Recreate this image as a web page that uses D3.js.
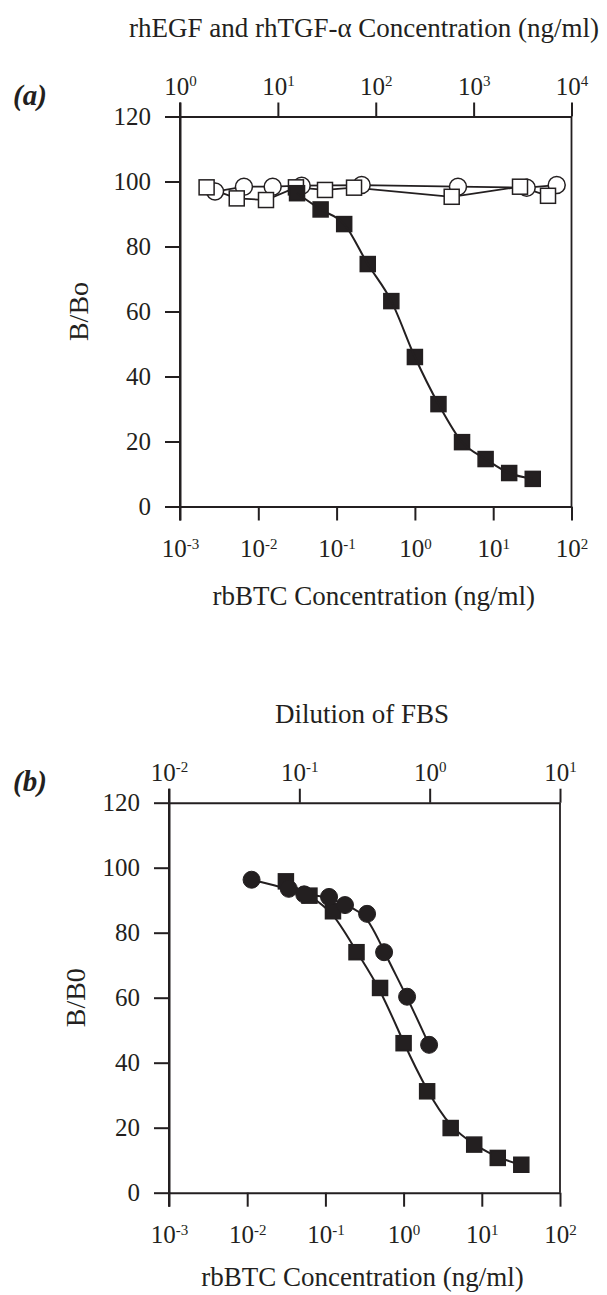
<!DOCTYPE html>
<html>
<head>
<meta charset="utf-8">
<script src="https://cdn.jsdelivr.net/npm/d3@7"></script>
<style>
  body { margin: 0; background: #fff; }
  text { font-family: "Liberation Serif", "Times New Roman", serif; fill: #231f20; }
</style>
</head>
<body>
<svg id="chart" width="607" height="1295"></svg>
<script>
// ---- panel (a) ----
const btcConc = [0.03125, 0.0625, 0.125, 0.25, 0.5, 1, 2, 4, 8, 16, 32];
const btcValuesA = [96.4, 91.4, 86.9, 74.6, 63.2, 46, 31.5, 19.8, 14.6, 10.3, 8.5];
const egfConc = [2.28, 4.5, 8.85, 17.5, 71.8, 692, 3484, 7063];
const egfValues = [96.9, 98.4, 98.4, 98.7, 98.9, 98.4, 98.1, 98.9];
const tgfConc = [1.87, 3.8, 7.56, 15.3, 30.3, 60, 597, 2978, 5755];
const tgfValues = [98.2, 94.8, 94.3, 98.2, 97.4, 98.1, 95.3, 98.4, 95.6];

// ---- panel (b) ----
const btcValuesB = [95.8, 91.4, 86.6, 74, 63, 46, 31.2, 19.9, 14.8, 10.7, 8.6];
const fbsDilution = [0.043, 0.083, 0.109, 0.169, 0.224, 0.331, 0.447, 0.671, 0.99];
const fbsValues = [96.3, 93.5, 91.8, 91, 88.5, 85.8, 74, 60.3, 45.5];

// ---- ticks ----
const yTicks = [0, 20, 40, 60, 80, 100, 120];
const btcTicks = [1e-3, 1e-2, 1e-1, 1e0, 1e1, 1e2];
const egfTicks = [1e0, 1e1, 1e2, 1e3, 1e4];
const fbsTicks = [1e-2, 1e-1, 1e0, 1e1];

const INK = '#231f20';
const svg = d3.select('#chart');

function powLabels(g) {
  g.selectAll('.tick text').each(function (d) {
    const t = d3.select(this);
    t.text('10');
    t.append('tspan')
      .attr('dy', '-0.55em')
      .style('font-size', '15px')
      .text(Math.round(Math.log10(d)));
  });
}

function styleAxis(g) {
  g.selectAll('.domain').attr('stroke', INK).attr('stroke-width', 2);
  g.selectAll('.tick line').attr('stroke', INK).attr('stroke-width', 2);
  g.selectAll('text').style('font-size', '25px').style('font-family', '"Liberation Serif", serif').attr('fill', INK);
}

function drawPanel(p) {
  const x = d3.scaleLog().domain([1e-3, 1e2]).range([p.left, p.right]);
  const xTop = d3.scaleLog().domain(p.topDomain).range([p.left, p.right]);
  const y = d3.scaleLinear().domain([0, 120]).range([p.bottom, p.top]);

  // box right edge
  svg.append('line')
    .attr('x1', p.right).attr('x2', p.right)
    .attr('y1', p.top).attr('y2', p.bottom)
    .attr('stroke', INK).attr('stroke-width', 1.8);

  const gb = svg.append('g').attr('transform', `translate(0,${p.bottom})`)
    .call(d3.axisBottom(x).tickValues(btcTicks).tickSize(14).tickSizeOuter(0).tickPadding(19));
  styleAxis(gb); powLabels(gb);

  const gt = svg.append('g').attr('transform', `translate(0,${p.top})`)
    .call(d3.axisTop(xTop).tickValues(p.topTicks).tickSize(14).tickSizeOuter(0).tickPadding(8));
  styleAxis(gt); powLabels(gt);

  const gl = svg.append('g').attr('transform', `translate(${p.left},0)`)
    .call(d3.axisLeft(y).tickValues(yTicks).tickSize(15).tickSizeOuter(0).tickPadding(14));
  styleAxis(gl);
  // left axis continues past the top and bottom lines (corner ticks)
  svg.append('line')
    .attr('x1', p.left).attr('x2', p.left)
    .attr('y1', p.top - 14).attr('y2', p.bottom + 14)
    .attr('stroke', INK).attr('stroke-width', 2);

  svg.append('text').attr('x', p.topTitleX).attr('y', p.top - 80)
    .attr('text-anchor', 'middle').style('font-size', '27px').text(p.topTitle);
  svg.append('text').attr('x', (p.left + p.right) / 2 - 2).attr('y', p.bottom + p.bottomTitleGap)
    .attr('text-anchor', 'middle').style('font-size', '27px').text('rbBTC Concentration (ng/ml)');
  svg.append('text').attr('transform', `translate(${p.yLabelX},${(p.top + p.bottom) / 2}) rotate(-90)`)
    .attr('text-anchor', 'middle').style('font-size', '28px').text(p.yTitle);
  svg.append('text').attr('x', 13).attr('y', p.top - 12)
    .style('font-size', '29px').style('font-weight', 'bold').style('font-style', 'italic')
    .text(p.tag);

  return { x, xTop, y };
}

function sq(g, px, py, s, fill) {
  g.append('rect').attr('x', px - s / 2).attr('y', py - s / 2)
    .attr('width', s).attr('height', s)
    .attr('fill', fill).attr('stroke', INK).attr('stroke-width', 1.5);
}

// ================= panel (a) =================
const A = drawPanel({
  left: 180, right: 571.5, top: 116.5, bottom: 506.5,
  topDomain: [1e0, 1e4], topTicks: egfTicks,
  topTitle: 'rhEGF and rhTGF-\u03b1 Concentration (ng/ml)', topTitleX: 364,
  yTitle: 'B/Bo', yLabelX: 88, tag: '(a)', bottomTitleGap: 98
});

const lineA = d3.line().x(d => A.xTop(d[0])).y(d => A.y(d[1]));
const egfPts = egfConc.map((c, i) => [c, egfValues[i]]);
const tgfPts = tgfConc.map((c, i) => [c, tgfValues[i]]);
const btcPtsA = btcConc.map((c, i) => [c, btcValuesA[i]]);

svg.append('path').attr('d', lineA(egfPts)).attr('fill', 'none').attr('stroke', INK).attr('stroke-width', 1.8);
svg.append('path').attr('d', lineA(tgfPts)).attr('fill', 'none').attr('stroke', INK).attr('stroke-width', 1.8);

const gA = svg.append('g');
egfPts.forEach(d => {
  gA.append('circle').attr('cx', A.xTop(d[0])).attr('cy', A.y(d[1])).attr('r', 8.5)
    .attr('fill', '#fff').attr('stroke', INK).attr('stroke-width', 1.5);
});
tgfPts.forEach(d => sq(gA, A.xTop(d[0]), A.y(d[1]), 15, '#fff'));

svg.append('path')
  .attr('d', d3.line().curve(d3.curveMonotoneX).x(d => A.x(d[0])).y(d => A.y(d[1]))(btcPtsA))
  .attr('fill', 'none').attr('stroke', INK).attr('stroke-width', 2);
btcPtsA.forEach(d => sq(gA, A.x(d[0]), A.y(d[1]), 15, INK));

// ================= panel (b) =================
const B = drawPanel({
  left: 169, right: 560, top: 802.7, bottom: 1192.7,
  topDomain: [1e-2, 1e1], topTicks: fbsTicks,
  topTitle: 'Dilution of FBS', topTitleX: 362,
  yTitle: 'B/B0', yLabelX: 85, tag: '(b)', bottomTitleGap: 93
});

const btcPtsB = btcConc.map((c, i) => [c, btcValuesB[i]]);
const fbsPts = fbsDilution.map((c, i) => [c, fbsValues[i]]);

svg.append('path')
  .attr('d', d3.line().curve(d3.curveBasis).x(d => B.x(d[0])).y(d => B.y(d[1]))(btcPtsB))
  .attr('fill', 'none').attr('stroke', INK).attr('stroke-width', 2);
svg.append('path')
  .attr('d', d3.line().curve(d3.curveBasis).x(d => B.xTop(d[0])).y(d => B.y(d[1]))(fbsPts))
  .attr('fill', 'none').attr('stroke', INK).attr('stroke-width', 2);

const gB = svg.append('g');
btcPtsB.forEach(d => sq(gB, B.x(d[0]), B.y(d[1]), 15, INK));
fbsPts.forEach(d => {
  gB.append('circle').attr('cx', B.xTop(d[0])).attr('cy', B.y(d[1])).attr('r', 8.5)
    .attr('fill', INK).attr('stroke', INK).attr('stroke-width', 1);
});
</script>
</body>
</html>
